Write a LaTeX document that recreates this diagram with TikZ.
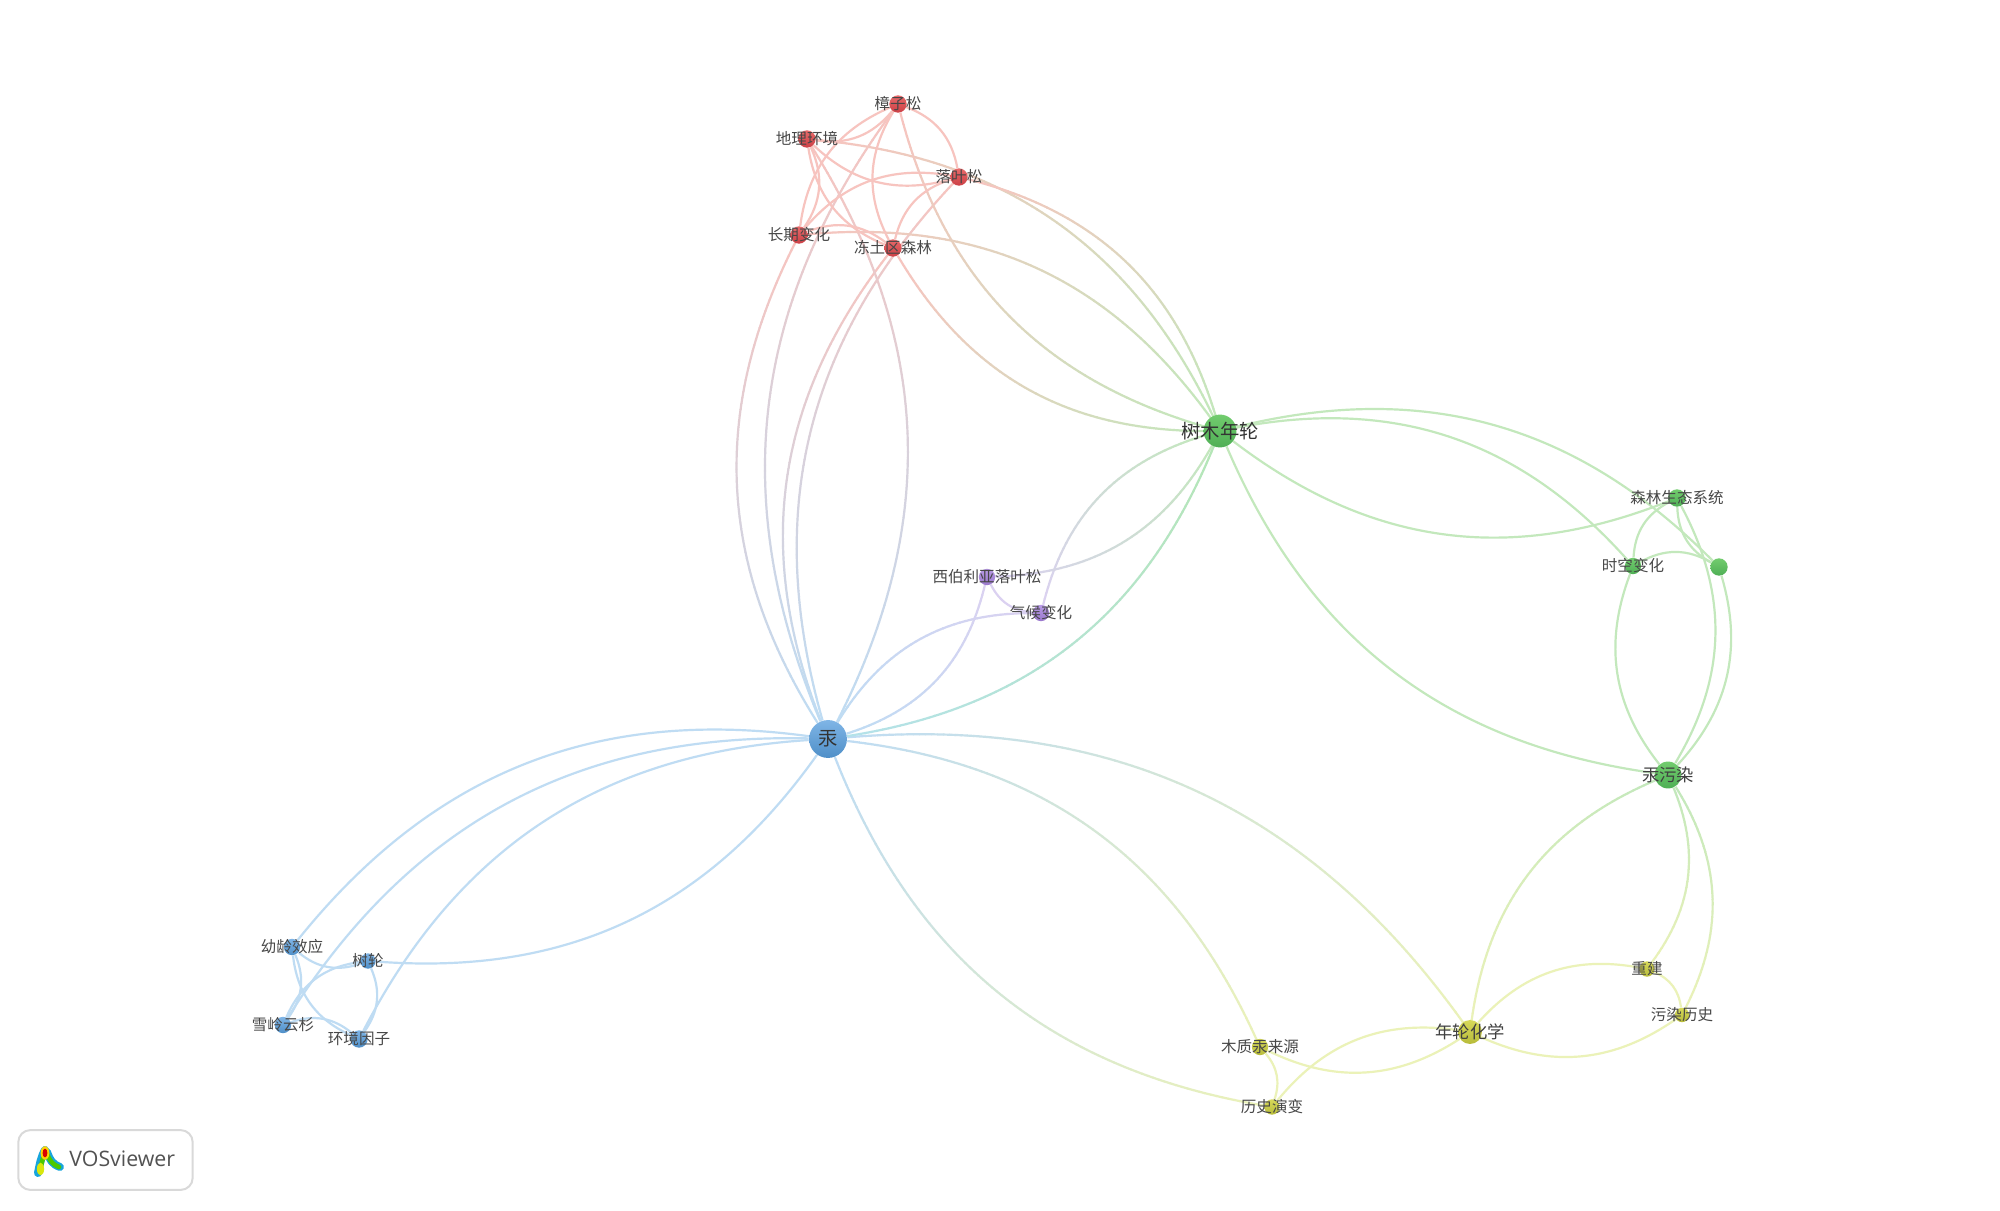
\documentclass[tikz,border=0pt]{standalone}
\usepackage{fontspec}
\setmainfont{Noto Sans CJK SC}
\newfontfamily\logofont{Open Sans}
\usetikzlibrary{backgrounds,decorations.markings}
\definecolor{er}{HTML}{F7C4BF}
\definecolor{eg}{HTML}{C3E8BC}
\definecolor{eb}{HTML}{BFDCF3}
\definecolor{ey}{HTML}{EBF2B8}
\definecolor{ep}{HTML}{DBD1F1}
\definecolor{tb}{HTML}{B4E2EA}
\definecolor{tg}{HTML}{B5E6B6}
\definecolor{ra}{HTML}{E86A6A}\definecolor{rb}{HTML}{CC3F45}
\definecolor{ga}{HTML}{72CC6E}\definecolor{gb}{HTML}{4FAF55}
\definecolor{ba}{HTML}{7FB5E6}\definecolor{bb}{HTML}{4F8FC8}
\definecolor{ya}{HTML}{D6D85A}\definecolor{yb}{HTML}{B8BC3A}
\definecolor{pa}{HTML}{B89AE6}\definecolor{pb}{HTML}{9A78CC}
\tikzset{
  bl/.style={bend left=29.5},
  br/.style={bend right=29.5},
  plain/.style={draw=#1,line width=1.1pt},
  grad/.style 2 args={postaction={decorate,decoration={markings,
    mark=between positions 0 and 1 step 3pt with {%
      \pgfmathsetmacro\pp{100-100*(\pgfkeysvalueof{/pgf/decoration/mark info/distance from start}/\pgfdecoratedpathlength)}%
      \draw[#1!\pp!#2,line width=1.1pt] (0,0)--(3.3pt,0);}}}},
  dot/.style={circle,inner sep=0pt,draw=none},
  nr/.style={dot,top color=ra,bottom color=rb},
  ng/.style={dot,top color=ga,bottom color=gb},
  nb/.style={dot,top color=ba,bottom color=bb},
  ny/.style={dot,top color=ya,bottom color=yb},
  np/.style={dot,top color=pa,bottom color=pb},
  lab/.style={inner sep=0pt,text=black!72,font=\fontsize{7.8pt}{9pt}\selectfont},
  labm/.style={inner sep=0pt,text=black!75,font=\fontsize{8.7pt}{10pt}\selectfont},
  labl/.style={inner sep=0pt,text=black!80,font=\fontsize{9.7pt}{11pt}\selectfont},
}
\begin{document}
\begin{tikzpicture}[x=0.5bp,y=-0.5bp]
\useasboundingbox (0,0) rectangle (2000,1211);
% nodes
\node[nb,minimum size=19pt,label={[labl]center:汞}] (hg) at (828,739) {};
\node[ng,minimum size=16.5pt,label={[labl]center:树木年轮}] (sm) at (1220,431) {};
\node[ng,minimum size=13.5pt,label={[labm]center:汞污染}] (sw) at (1668,775) {};
\node[ny,minimum size=12pt,label={[labm]center:年轮化学}] (nl) at (1470,1032) {};
\node[nr,minimum size=8.7pt,label={[lab]center:樟子松}] (zz) at (898,104) {};
\node[nr,minimum size=8.7pt,label={[lab]center:地理环境}] (dh) at (807,139) {};
\node[nr,minimum size=8.7pt,label={[lab]center:落叶松}] (lx) at (959,177) {};
\node[nr,minimum size=8.7pt,label={[lab]center:长期变化}] (cq) at (799,235) {};
\node[nr,minimum size=8.7pt,label={[lab]center:冻土区森林}] (dl) at (893,248) {};
\node[ng,minimum size=8.7pt,label={[lab]center:森林生态系统}] (sen) at (1677,498) {};
\node[ng,minimum size=8.2pt,label={[lab]center:时空变化}] (ks) at (1633,566) {};
\node[ng,minimum size=8.7pt] (un) at (1719,567) {};
\node[np,minimum size=8.2pt,label={[lab]center:西伯利亚落叶松}] (xb) at (987,577) {};
\node[np,minimum size=8.2pt,label={[lab]center:气候变化}] (qh) at (1041,613) {};
\node[nb,minimum size=8.2pt,label={[lab]center:幼龄效应}] (yl) at (292,947) {};
\node[nb,minimum size=7.7pt,label={[lab]center:树轮}] (sl) at (368,961) {};
\node[nb,minimum size=8.2pt,label={[lab]center:雪岭云杉}] (xl) at (283,1025) {};
\node[nb,minimum size=8.7pt,label={[lab]center:环境因子}] (hj) at (359,1039) {};
\node[ny,minimum size=8.2pt,label={[lab]center:木质汞来源}] (mz) at (1260,1047) {};
\node[ny,minimum size=7.7pt,label={[lab]center:历史演变}] (ls) at (1272,1107) {};
\node[ny,minimum size=7.7pt,label={[lab]center:重建}] (cj) at (1647,969) {};
\node[ny,minimum size=7.2pt,label={[lab]center:污染历史}] (wr) at (1682,1015) {};
% logo
\node[draw=black!15,line width=1pt,rounded corners=6pt,minimum width=87.5pt,minimum height=30pt,inner sep=0pt,fill=white] (logobox) at (105.5,1160) {};
\node[inner sep=0pt,anchor=west,text=black!68,font=\logofont\fontsize{10.7pt}{13pt}\selectfont] (logotext) at (69,1159) {VOSviewer};
\draw[cyan!80!teal,line width=4pt,line cap=round,line join=round] (38,1173)..controls (40,1163) and (41,1157)..(45,1150) (47,1152)..controls (50,1160) and (52,1164)..(60,1167);
\draw[green!65!black!60!lime,line width=2.3pt,line cap=round,line join=round] (40,1170)--(44,1154) (47,1154)..controls (50,1161) and (52,1164)..(59,1167);
\fill[yellow!85!green] (40.5,1169) ellipse (1.8pt and 3.2pt);
\fill[yellow!70!orange] (45,1153) ellipse (2.2pt and 3.4pt);
\fill[red!85!black] (45,1153) ellipse (1.2pt and 2.2pt);
% edges
\begin{pgfonlayer}{background}
\fill[white] (0,0) rectangle (2000,1211);
% blue
\path[plain=eb] (hg) to[br] (yl);
\path[plain=eb] (hg) to[br] (xl);
\path[plain=eb] (hg) to[br] (hj);
\path[plain=eb] (hg) to[bl] (sl);
\path[plain=eb] (yl) to[br] (sl);
\path[plain=eb] (yl) to[bl] (xl);
\path[plain=eb] (yl) to[br] (hj);
\path[plain=eb] (xl) to[bl] (sl);
\path[plain=eb] (xl) to[bl] (hj);
\path[plain=eb] (sl) to[bl] (hj);
% blue to yellow
\path[grad={eb}{ey}] (hg) to[br] (ls);
\path[grad={eb}{ey}] (hg) to[bl] (mz);
\path[grad={eb}{ey}] (hg) to[bl] (nl);
% blue to purple
\path[grad={eb}{ep}] (hg) to[bl] (qh);
\path[grad={eb}{ep}] (hg) to[br] (xb);
% blue to green
\path[grad={tb}{tg}] (hg) to[br] (sm);
% blue to red
\path[grad={eb}{er}] (hg) to[bl] (cq);
\path[grad={eb}{er}] (hg) to[bl] (zz);
\path[grad={eb}{er}] (hg) to[bl] (dl);
\path[grad={eb}{er}] (hg) to[bl] (lx);
\path[grad={eb}{er}] (hg) to[br] (dh);
% green
\path[plain=eg] (sm) to[bl] (ks);
\path[plain=eg] (sm) to[bl] (un);
\path[plain=eg] (sm) to[br] (sen);
\path[plain=eg] (sm) to[br] (sw);
\path[plain=eg] (ks) to[bl] (sen);
\path[plain=eg] (ks) to[bl] (un);
\path[plain=eg] (ks) to[br] (sw);
\path[plain=eg] (sen) to[br] (un);
\path[plain=eg] (sen) to[bl] (sw);
\path[plain=eg] (un) to[bl] (sw);
% red to green
\path[grad={er}{eg}] (dh) to[bl] (sm);
\path[grad={er}{eg}] (lx) to[bl] (sm);
\path[grad={er}{eg}] (zz) to[br] (sm);
\path[grad={er}{eg}] (dl) to[br] (sm);
\path[grad={er}{eg}] (cq) to[bl] (sm);
% red
\path[plain=er] (zz) to[bl] (dh);
\path[plain=er] (zz) to[br] (cq);
\path[plain=er] (zz) to[bl] (lx);
\path[plain=er] (zz) to[br] (dl);
\path[plain=er] (dh) to[br] (lx);
\path[plain=er] (dh) to[br] (dl);
\path[plain=er] (dh) to[bl] (cq);
\path[plain=er] (cq) to[bl] (lx);
\path[plain=er] (cq) to[bl] (dl);
\path[plain=er] (lx) to[br] (dl);
% purple
\path[plain=ep] (xb) to[br] (qh);
\path[grad={ep}{eg}] (qh) to[bl] (sm);
\path[grad={ep}{eg}] (xb) to[br] (sm);
% yellow
\path[grad={eg}{ey}] (sw) to[br] (nl);
\path[grad={eg}{ey}] (sw) to[bl] (cj);
\path[grad={eg}{ey}] (sw) to[bl] (wr);
\path[plain=ey] (nl) to[bl] (cj);
\path[plain=ey] (nl) to[br] (wr);
\path[plain=ey] (cj) to[bl] (wr);
\path[plain=ey] (nl) to[bl] (mz);
\path[plain=ey] (nl) to[br] (ls);
\path[plain=ey] (mz) to[bl] (ls);
\end{pgfonlayer}
\end{tikzpicture}
\end{document}
